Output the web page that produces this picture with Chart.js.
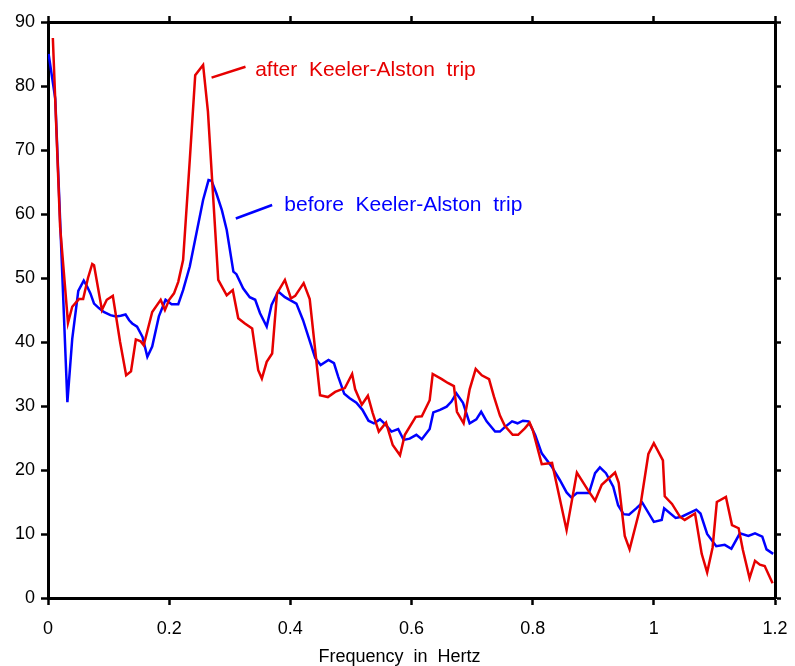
<!DOCTYPE html>
<html>
<head>
<meta charset="utf-8">
<script src="https://cdn.jsdelivr.net/npm/chart.js@4/dist/chart.umd.min.js"></script>
<style>
  html, body { margin: 0; padding: 0; background: #ffffff; }
  #wrap { width: 795px; height: 666px; position: relative; }
</style>
</head>
<body>
<div id="wrap"><canvas id="c" width="795" height="666"></canvas></div>
<script>
// ---- Data ----
const freqAfter = [0.008,0.020,0.033,0.040,0.051,0.058,0.066,0.073,0.076,0.089,0.097,0.107,0.119,0.129,0.137,0.145,0.153,0.158,0.172,0.186,0.193,0.200,0.208,0.215,0.223,0.234,0.243,0.256,0.264,0.281,0.295,0.305,0.314,0.325,0.337,0.347,0.353,0.361,0.370,0.378,0.391,0.401,0.408,0.422,0.432,0.449,0.462,0.474,0.490,0.502,0.507,0.518,0.528,0.536,0.546,0.558,0.569,0.581,0.589,0.607,0.617,0.630,0.635,0.650,0.660,0.670,0.675,0.686,0.696,0.706,0.716,0.728,0.736,0.746,0.754,0.767,0.776,0.787,0.795,0.800,0.815,0.832,0.856,0.873,0.891,0.903,0.914,0.936,0.942,0.952,0.960,0.977,0.991,1.000,1.015,1.018,1.030,1.043,1.051,1.068,1.079,1.088,1.097,1.104,1.119,1.129,1.140,1.147,1.158,1.167,1.175,1.183,1.196];
const ampAfter  = [87.5,58,43,45.5,46.7,46.7,50,52.2,52,45,46.6,47.2,40,34.8,35.4,40.4,40.1,39.5,44.7,46.6,45,46.6,47.6,49.4,52.8,68.4,81.7,83.3,76,49.7,47.3,48.1,43.7,42.9,42.1,35.6,34.3,36.9,38.2,47.6,49.7,46.8,47.2,49.2,46.7,31.7,31.4,32.2,32.8,35,32.6,30.2,31.6,28.9,26,27.4,23.9,22.3,25.5,28.3,28.4,30.9,35,34.2,33.6,33.1,29.1,27.3,32.6,35.8,34.8,34.2,31.5,28.5,26.9,25.5,25.5,26.5,27.4,26.3,20.9,21.1,10.6,19.6,16.9,15.2,17.7,19.6,18,9.7,7.6,13.9,22.5,24.2,21.5,15.9,14.7,12.7,12.2,13.2,6.9,4.0,7.9,15.0,15.8,11.4,10.9,7.5,3.1,5.8,5.2,5.0,2.3];

const freqBefore = [0.001,0.012,0.032,0.040,0.050,0.059,0.065,0.070,0.076,0.084,0.092,0.103,0.112,0.120,0.128,0.134,0.139,0.147,0.156,0.164,0.172,0.183,0.194,0.204,0.215,0.223,0.234,0.245,0.256,0.265,0.270,0.278,0.287,0.295,0.306,0.311,0.322,0.333,0.342,0.350,0.361,0.369,0.380,0.391,0.410,0.421,0.441,0.450,0.463,0.472,0.479,0.489,0.498,0.509,0.519,0.529,0.538,0.548,0.556,0.567,0.578,0.587,0.597,0.608,0.617,0.630,0.636,0.647,0.658,0.666,0.674,0.685,0.696,0.707,0.715,0.724,0.738,0.746,0.754,0.766,0.775,0.784,0.793,0.804,0.815,0.831,0.845,0.856,0.864,0.873,0.893,0.903,0.911,0.921,0.933,0.941,0.950,0.959,0.971,0.981,1.000,1.013,1.017,1.036,1.046,1.070,1.077,1.088,1.103,1.117,1.128,1.142,1.156,1.167,1.179,1.186,1.197];
const ampBefore  = [85,78,30.6,40.5,48,49.6,48.6,47.6,46,45.3,44.7,44.2,44,44.1,44.3,43.4,42.9,42.4,40.8,37.7,39.3,44,46.6,45.9,45.9,48.1,51.8,57,62.2,65.3,65.2,63.2,60.6,57.5,51,50.6,48.4,47,46.6,44.5,42.4,45.8,47.9,47,46,43.4,37.5,36.4,37.2,36.7,34.6,31.9,31.2,30.5,29.4,27.7,27.3,27.9,27.2,26,26.4,24.7,24.9,25.5,24.8,26.4,29,29.4,29.9,30.7,32,30.5,27.3,27.9,29.1,27.6,26,26,26.7,27.6,27.3,27.7,27.6,25.5,22.6,20.6,18.4,16.5,15.7,16.4,16.4,19.5,20.4,19.5,17.4,14.5,13.1,13,14,14.9,11.9,12.2,14,12.5,12.7,13.8,13.2,10,8.1,8.3,7.7,10.1,9.7,10.1,9.6,7.6,6.9];

const seriesNames = ['after  Keeler-Alston  trip', 'before  Keeler-Alston  trip'];
const xTickValues = [0, 0.2, 0.4, 0.6, 0.8, 1, 1.2];
const yTickValues = [0, 10, 20, 30, 40, 50, 60, 70, 80, 90];
const xTitle = 'Frequency  in  Hertz';

// label anchor points in data space: [lineStartX, lineStartY, lineEndX, lineEndY, textX, textY]
const labelAfter  = [0.270, 81.3, 0.326, 83.0, 0.342, 82.4];
const labelBefore = [0.310, 59.3, 0.370, 61.4, 0.390, 61.4];

const RED = '#e60000';
const BLUE = '#0000ff';
const FONT = '"Liberation Sans", Arial, sans-serif';

const toPts = (xs, ys) => xs.map((x, i) => ({ x: x, y: ys[i] }));

const labelPlugin = {
  id: 'labels',
  afterDatasetsDraw(chart) {
    const ctx = chart.ctx;
    const xs = chart.scales.x, ys = chart.scales.y;
    const draw = (lab, color, text) => {
      ctx.save();
      ctx.strokeStyle = color;
      ctx.lineWidth = 2.5;
      ctx.beginPath();
      ctx.moveTo(xs.getPixelForValue(lab[0]), ys.getPixelForValue(lab[1]));
      ctx.lineTo(xs.getPixelForValue(lab[2]), ys.getPixelForValue(lab[3]));
      ctx.stroke();
      ctx.fillStyle = color;
      ctx.font = '21px ' + FONT;
      ctx.textAlign = 'left';
      ctx.textBaseline = 'middle';
      ctx.fillText(text, xs.getPixelForValue(lab[4]), ys.getPixelForValue(lab[5]));
      ctx.restore();
    };
    draw(labelAfter, RED, seriesNames[0]);
    draw(labelBefore, BLUE, seriesNames[1]);
    // x-axis title, centred on the whole figure as in the reference
    ctx.save();
    ctx.fillStyle = '#000';
    ctx.font = '18px ' + FONT;
    ctx.textAlign = 'center';
    ctx.textBaseline = 'middle';
    ctx.fillText(xTitle, chart.width / 2 + 2, chart.height - 9);
    ctx.restore();
  }
};

const tickFont = { family: FONT, size: 18 };
const commonX = { type: 'linear', min: 0, max: 1.2 };
const commonY = { type: 'linear', min: 0, max: 90 };

new Chart(document.getElementById('c'), {
  type: 'line',
  data: {
    datasets: [
      { label: seriesNames[0], data: toPts(freqAfter, ampAfter), borderColor: RED, borderWidth: 2.5, pointRadius: 0, tension: 0, fill: false, xAxisID: 'x', yAxisID: 'y' },
      { label: seriesNames[1], data: toPts(freqBefore, ampBefore), borderColor: BLUE, borderWidth: 2.5, pointRadius: 0, tension: 0, fill: false, xAxisID: 'x', yAxisID: 'y' }
    ]
  },
  options: {
    responsive: false,
    animation: false,
    devicePixelRatio: 1,
    layout: { padding: 0 },
    plugins: { legend: { display: false }, tooltip: { enabled: false }, title: { display: false } },
    scales: {
      x: Object.assign({}, commonX, {
        position: 'bottom',
        afterBuildTicks: s => { s.ticks = xTickValues.map(v => ({ value: v })); },
        ticks: { color: '#000', font: tickFont, padding: 13, maxRotation: 0, autoSkip: false,
                 callback: v => String(v) },
        grid: { display: true, drawOnChartArea: false, drawTicks: true, tickLength: 7, tickColor: '#000', tickWidth: 2.5 },
        border: { display: true, color: '#000', width: 3 },
        afterFit: s => { s.height = 68; s.paddingLeft = 0; s.paddingRight = 0; }
      }),
      x2: Object.assign({}, commonX, {
        position: 'top',
        afterBuildTicks: s => { s.ticks = xTickValues.map(v => ({ value: v })); },
        ticks: { display: false },
        grid: { display: true, drawOnChartArea: false, drawTicks: true, tickLength: 6, tickColor: '#000', tickWidth: 2.5 },
        border: { display: true, color: '#000', width: 3 },
        afterFit: s => { s.height = 22; s.paddingLeft = 0; s.paddingRight = 0; }
      }),
      y: Object.assign({}, commonY, {
        position: 'left',
        afterBuildTicks: s => { s.ticks = yTickValues.map(v => ({ value: v })); },
        ticks: { color: '#000', font: tickFont, padding: 6, callback: v => String(v) },
        grid: { display: true, drawOnChartArea: false, drawTicks: true, tickLength: 7, tickColor: '#000', tickWidth: 2.5 },
        border: { display: true, color: '#000', width: 3 },
        afterFit: s => { s.width = 48; s.paddingTop = 0; s.paddingBottom = 0; }
      }),
      y2: Object.assign({}, commonY, {
        position: 'right',
        afterBuildTicks: s => { s.ticks = yTickValues.map(v => ({ value: v })); },
        ticks: { display: false },
        grid: { display: true, drawOnChartArea: false, drawTicks: true, tickLength: 6, tickColor: '#000', tickWidth: 2.5 },
        border: { display: true, color: '#000', width: 3 },
        afterFit: s => { s.width = 20; s.paddingTop = 0; s.paddingBottom = 0; }
      })
    }
  },
  plugins: [labelPlugin]
});
</script>
</body>
</html>
